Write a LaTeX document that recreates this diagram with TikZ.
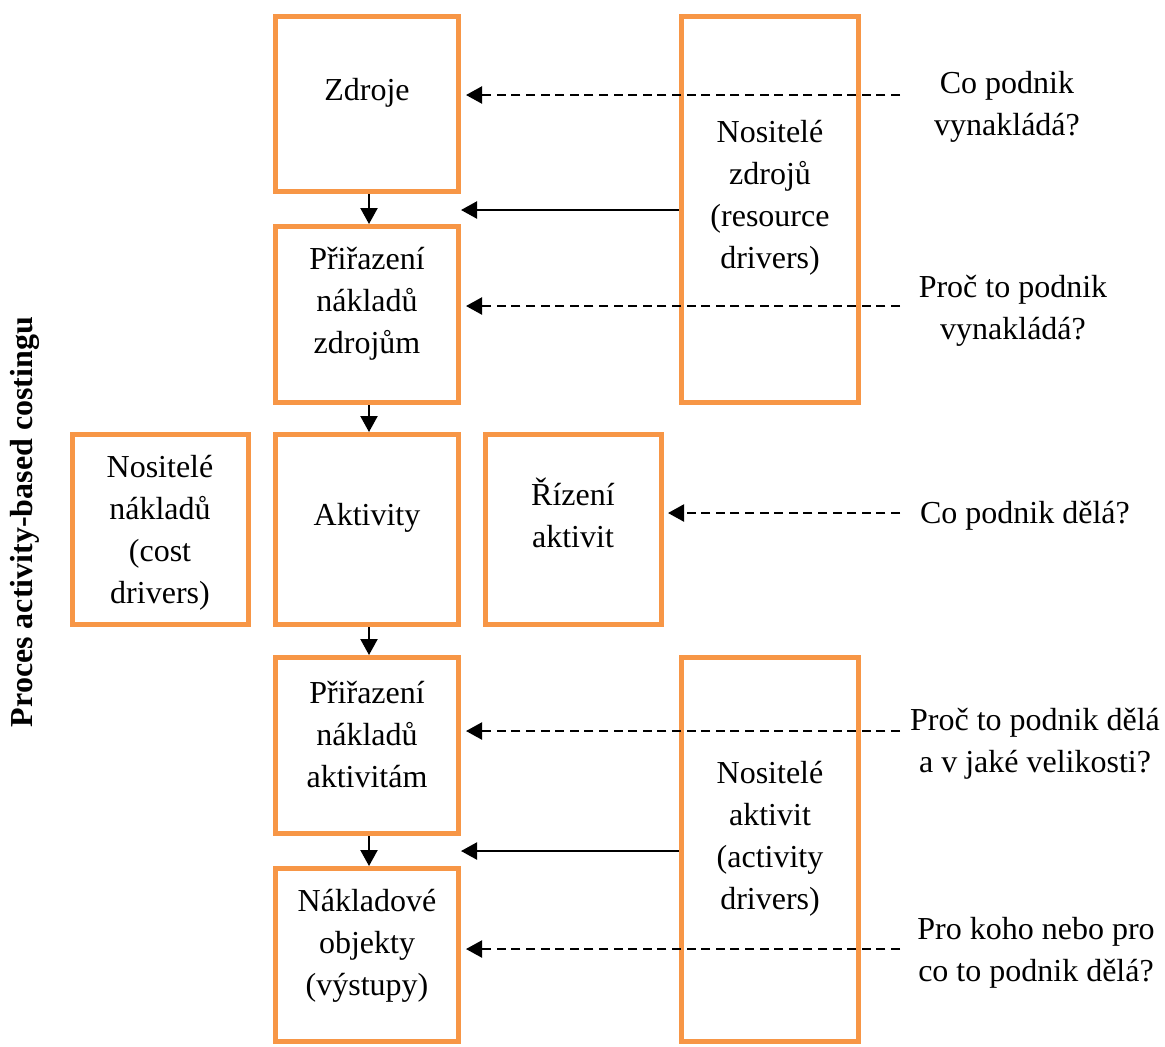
\documentclass[tikz,border=0pt]{standalone}
\usepackage{fontspec}
\setmainfont{Liberation Serif}
\usetikzlibrary{arrows.meta}
\definecolor{abcorange}{HTML}{F79646}
\begin{document}
\begin{tikzpicture}[x=0.5pt,y=-0.5pt,
  box/.style={draw=abcorange,line width=2.5pt,rectangle,inner sep=0pt,outer sep=1.25pt},
  txt/.style={font=\fontsize{16}{21}\selectfont,align=center,inner sep=0pt},
  arr/.style={line width=1.1pt,-{Triangle[length=8pt,width=8.5pt]}},
  darr/.style={arr,dash pattern=on 4.5pt off 2.8pt}]
\useasboundingbox (0,0) rectangle (1165,1046);
% boxes
\node[box,minimum width=91.5pt,minimum height=87.5pt] (zdroje) at (367,104) {};
\node[box,minimum width=91.5pt,minimum height=88pt] (przdr) at (367,314.5) {};
\node[box,minimum width=91.5pt,minimum height=95pt] (akt) at (367,529.5) {};
\node[box,minimum width=91.5pt,minimum height=88pt] (prakt) at (367,745.5) {};
\node[box,minimum width=91.5pt,minimum height=86.5pt] (nakl) at (367,955) {};
\node[box,minimum width=88.5pt,minimum height=193pt] (nzdr) at (770,209.5) {};
\node[box,minimum width=88pt,minimum height=95pt] (nnakl) at (160.5,529.5) {};
\node[box,minimum width=88pt,minimum height=95pt] (rizeni) at (573.5,529.5) {};
\node[box,minimum width=88.5pt,minimum height=192pt] (nakt) at (770,849.5) {};
% box texts
\node[txt] (tzdroje) at (367,93) {Zdroje};
\node[txt] (tprzdr) at (367,304) {Přiřazení\\nákladů\\zdrojům};
\node[txt] (takt) at (367,518) {Aktivity};
\node[txt] (tprakt) at (367,735) {Přiřazení\\nákladů\\aktivitám};
\node[txt] (tnakl) at (367,946) {Nákladové\\objekty\\(výstupy)};
\node[txt] (tnzdr) at (770,198) {Nositelé\\zdrojů\\(resource\\drivers)};
\node[txt] (tnnakl) at (160,533) {Nositelé\\nákladů\\(cost\\drivers)};
\node[txt] (trizeni) at (573,513) {Řízení\\aktivit};
\node[txt] (tnakt) at (770,839) {Nositelé\\aktivit\\(activity\\drivers)};
% side label
\node[txt,font=\fontsize{16}{21}\selectfont\bfseries,rotate=90] (side) at (25,522) {Proces activity-based costingu};
% questions
\node[txt] (q1) at (1007,107) {Co podnik\\vynakládá?};
\node[txt] (q2) at (1013,311) {Proč to podnik\\vynakládá?};
\node[txt] (q3) at (1025,516) {Co podnik dělá?};
\node[txt] (q4) at (1035,744) {Proč to podnik dělá\\a v jaké velikosti?};
\node[txt] (q5) at (1036,953) {Pro koho nebo pro\\co to podnik dělá?};
\coordinate (d1) at (900,95);
\coordinate (d2) at (900,306);
\coordinate (d3) at (900,513);
\coordinate (d4) at (900,731);
\coordinate (d5) at (900,949);
\coordinate (s1) at (0,210);
\coordinate (s2) at (0,851);
% down arrows
\draw[arr] ([xshift=1pt]zdroje.south) -- ([xshift=1pt]przdr.north);
\draw[arr] ([xshift=1pt]przdr.south) -- ([xshift=1pt]akt.north);
\draw[arr] ([xshift=1pt]akt.south) -- ([xshift=1pt]prakt.north);
\draw[arr] ([xshift=1pt]prakt.south) -- ([xshift=1pt]nakl.north);
% solid arrows from drivers
\draw[arr] (nzdr.west |- s1) -- (zdroje.east |- s1);
\draw[arr] (nakt.west |- s2) -- (prakt.east |- s2);
% dashed arrows
\draw[darr,shorten >=2.5pt] (d1) -- (zdroje.east |- d1);
\draw[darr,shorten >=2.5pt] (d2) -- (przdr.east |- d2);
\draw[darr,shorten >=2pt] (d3) -- (rizeni.east |- d3);
\draw[darr,shorten >=2.5pt] (d4) -- (prakt.east |- d4);
\draw[darr,shorten >=2.5pt] (d5) -- (nakl.east |- d5);
\end{tikzpicture}
\end{document}
